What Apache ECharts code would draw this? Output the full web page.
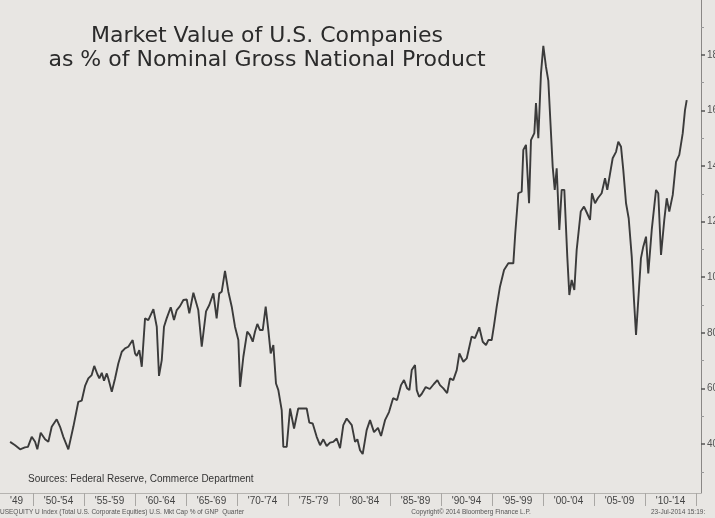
<!DOCTYPE html>
<html><head><meta charset="utf-8">
<script src="https://cdn.jsdelivr.net/npm/echarts@6/dist/echarts.min.js"></script>
<style>html,body{margin:0;padding:0;background:#e8e6e3}#c{width:715px;height:518px}</style>
</head><body><div id="c"></div>
<script>
// Quarterly readings: year (fractional) and market value as % of GNP
const years = [
1947.75,1948.24,1948.73,1949.2,1949.5,1949.87,1950.2,1950.42,1950.75,1951.18,1951.5,1951.83,1952.32,1952.65,1952.97,1953.46,1953.95,1954.44,1954.77,
1955.1,1955.42,1955.75,1956.0,1956.3,1956.5,1956.74,1956.96,1957.23,1957.38,1957.72,1958.04,1958.36,1958.7,1959.02,1959.34,1959.77,
1960.0,1960.17,1960.42,1960.66,1960.98,1961.3,1961.8,1962.13,1962.35,1962.62,1962.84,1963.1,1963.5,1963.82,1964.09,1964.41,1964.74,
1965.07,1965.32,1965.72,1966.2,1966.54,1966.96,1967.28,1967.68,1968.0,1968.26,1968.5,1968.82,1969.15,1969.48,1969.8,
1970.13,1970.3,1970.62,1971.0,1971.27,1971.54,1971.76,1971.99,1972.25,1972.52,1972.81,1973.07,1973.3,1973.56,1973.82,1974.05,1974.38,1974.54,1974.87,
1975.2,1975.59,1976.0,1976.5,1976.83,1977.09,1977.42,1977.81,1978.14,1978.46,1978.79,1979.12,1979.44,1979.77,
1980.1,1980.42,1980.75,1981.25,1981.57,1981.8,1982.06,1982.32,1982.71,1983.04,1983.43,1983.82,1984.12,1984.51,1984.9,
1985.3,1985.69,1986.08,1986.37,1986.67,1986.9,1987.13,1987.45,1987.62,1987.85,1988.1,1988.5,1988.9,1989.3,1989.64,1989.9,
1990.23,1990.6,1990.88,1991.2,1991.54,1991.8,1992.19,1992.52,1993.0,1993.33,1993.75,1994.09,1994.41,1994.64,1994.97,
1995.2,1995.46,1995.78,1996.18,1996.6,1997.09,1997.28,1997.58,1997.91,1998.07,1998.33,1998.63,1998.82,1999.15,1999.31,1999.54,1999.8,
2000.03,2000.29,2000.52,2000.75,2000.95,2001.15,2001.34,2001.6,2001.83,2002.09,2002.38,2002.58,2002.81,2003.07,2003.3,2003.7,2004.02,2004.31,2004.61,2004.8,
2005.1,2005.39,2005.75,2006.08,2006.3,2006.83,2007.16,2007.38,2007.65,2007.87,2008.14,2008.4,2008.7,2008.92,2009.12,2009.34,2009.6,2009.83,
2010.1,2010.32,2010.66,2011.08,2011.3,2011.57,2011.89,2012.13,2012.38,2012.72,2012.87,2013.04,2013.36,2013.7,2013.92,2014.09
];
const values = [
40.8,39.6,38.1,38.8,39.0,42.6,40.8,38.1,44.1,41.7,40.8,46.2,48.9,46.2,42.6,38.1,46.2,55.2,55.6,
60.9,63.6,64.8,68.1,65.2,63.6,65.6,62.8,65.4,63.6,58.8,63.6,69.0,73.2,74.4,75.0,77.4,
72.6,71.7,73.8,67.8,85.2,84.6,88.5,82.2,64.5,70.2,82.2,85.2,89.2,84.6,88.2,89.6,91.8,
92.0,87.0,94.4,88.2,75.0,87.7,90.0,94.2,85.2,94.2,94.8,102.3,94.8,89.4,82.2,
77.4,60.6,71.4,80.4,79.2,76.8,80.4,83.2,81.0,81.0,89.4,81.0,72.6,75.6,61.8,59.4,52.2,39.0,39.0,
52.8,45.6,52.8,52.8,52.8,47.7,47.4,42.6,39.6,41.7,39.3,40.5,40.8,42.0,
38.5,46.8,49.2,46.8,40.8,41.7,37.8,36.4,45.0,48.6,44.3,45.8,42.9,48.6,51.5,
56.5,55.8,61.2,63.0,60.1,59.4,66.6,68.4,59.4,57.0,58.0,60.5,59.8,61.6,63.0,61.2,
60.0,58.3,63.6,63.0,66.6,72.6,69.6,70.8,78.6,78.1,82.0,76.8,75.6,77.4,77.4,
82.8,89.4,96.6,102.6,105.0,105.0,115.8,130.2,130.8,145.8,147.6,126.6,149.3,151.8,162.6,150.0,173.3,
183.2,175.7,170.7,154.1,139.7,131.4,139.2,117.0,131.4,131.4,107.4,93.6,99.0,95.4,109.8,123.6,125.4,123.1,120.6,130.2,
126.6,128.5,130.2,135.6,131.4,142.8,145.1,148.7,146.9,138.6,126.6,121.2,107.4,91.8,79.2,91.8,106.8,111.0,
114.6,101.4,117.0,131.4,130.2,108.0,120.6,128.4,123.6,129.6,129.0,141.5,144.0,151.8,160.1,163.7
];
const xTickYears = [1950,1955,1960,1965,1970,1975,1980,1985,1990,1995,2000,2005,2010,2015];
const xLabels = ["'49","'50-'54","'55-'59","'60-'64","'65-'69","'70-'74","'75-'79","'80-'84","'85-'89","'90-'94","'95-'99","'00-'04","'05-'09","'10-'14"];
const yLabelValues = [40,60,80,100,120,140,160,180];
const yMinorValues = [30,50,70,90,110,130,150,170,190];
const xMin = 1946.76, xMax = 2015.49, yMin = 22.4, yMax = 199.7;

const labelPos = xLabels.map((s, i) => i === 0 ? (xMin + xTickYears[0]) / 2 : (xTickYears[i-1] + xTickYears[i]) / 2);
const labelMap = {};
labelPos.forEach((p, i) => { labelMap[p.toFixed(2)] = xLabels[i]; });

const chart = echarts.init(document.getElementById('c'), null, {renderer: 'canvas'});
const txt = '#333';
chart.setOption({
  backgroundColor: '#e8e6e3',
  animation: false,
  grid: {left: 0, right: 14, top: 0, bottom: 25, containLabel: false, outerBoundsMode: 'none'},
  xAxis: {
    type: 'value', min: xMin, max: xMax,
    axisLine: {show: true, lineStyle: {color: '#b5b3b0', width: 1}},
    axisTick: {show: true, customValues: xTickYears, length: 13, lineStyle: {color: '#a9a7a4'}},
    axisLabel: {show: true, customValues: labelPos, margin: 3, fontSize: 10, fontFamily: 'Liberation Sans', color: '#444',
      formatter: v => labelMap[Number(v).toFixed(2)] || ''},
    splitLine: {show: false}
  },
  yAxis: [{
    type: 'value', position: 'right', min: yMin, max: yMax,
    axisLine: {show: true, lineStyle: {color: '#8a8886', width: 1}},
    axisTick: {show: true, customValues: yLabelValues, length: 4, lineStyle: {color: '#555', width: 1.5}},
    axisLabel: {show: true, customValues: yLabelValues, margin: 6, fontSize: 10, fontFamily: 'Liberation Sans', color: '#555'},
    splitLine: {show: false}
  }, {
    type: 'value', position: 'right', min: yMin, max: yMax,
    axisLine: {show: false},
    axisTick: {show: true, customValues: yMinorValues, length: 3, lineStyle: {color: '#999'}},
    axisLabel: {show: false},
    splitLine: {show: false}
  }],
  series: [{
    type: 'line', yAxisIndex: 0, showSymbol: false, symbol: 'none',
    lineStyle: {color: '#3b3b3b', width: 1.9},
    data: years.map((y, i) => [y, values[i]])
  }],
  graphic: [
    {type: 'text', x: 267, y: 36, style: {text: 'Market Value of U.S. Companies', fontSize: 22, fontFamily: 'DejaVu Sans', fill: '#2b2b2b', textAlign: 'center', textVerticalAlign: 'middle'}},
    {type: 'text', x: 267, y: 60, style: {text: 'as % of Nominal Gross National Product', fontSize: 22, fontFamily: 'DejaVu Sans', fill: '#2b2b2b', textAlign: 'center', textVerticalAlign: 'middle'}},
    {type: 'text', x: 28, y: 479, style: {text: 'Sources: Federal Reserve, Commerce Department', fontSize: 10, fontFamily: 'Liberation Sans', fill: txt, textAlign: 'left', textVerticalAlign: 'middle'}},
    {type: 'text', x: 0, y: 512, style: {text: 'USEQUITY U Index (Total U.S. Corporate Equities) U.S. Mkt Cap % of GNP  Quarter', fontSize: 6.5, fontFamily: 'Liberation Sans', fill: '#555', textAlign: 'left', textVerticalAlign: 'middle'}},
    {type: 'text', x: 471, y: 512, style: {text: 'Copyright\u00a9 2014 Bloomberg Finance L.P.', fontSize: 6.5, fontFamily: 'Liberation Sans', fill: '#555', textAlign: 'center', textVerticalAlign: 'middle'}},
    {type: 'text', x: 651, y: 512, style: {text: '23-Jul-2014 15:19:', fontSize: 6.5, fontFamily: 'Liberation Sans', fill: '#555', textAlign: 'left', textVerticalAlign: 'middle'}}
  ]
});
</script>
</body></html>
